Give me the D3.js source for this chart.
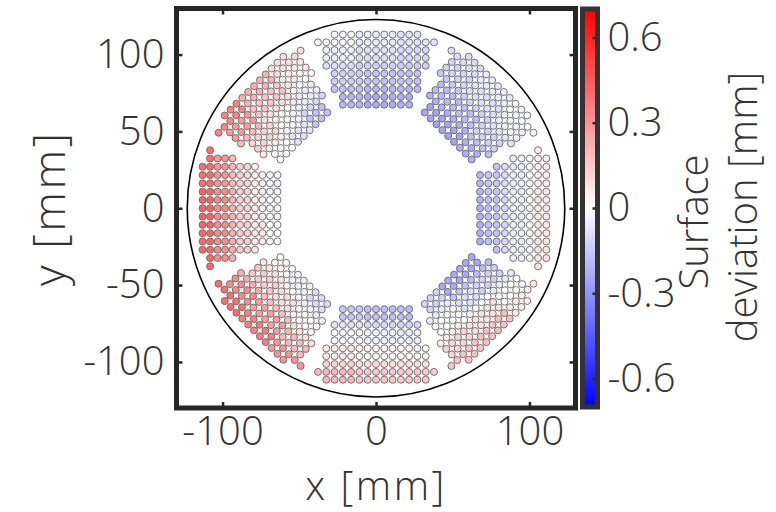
<!DOCTYPE html>
<html>
<head>
<meta charset="utf-8">
<script src="https://cdn.jsdelivr.net/npm/d3@7"></script>
<style>
  body { margin: 0; background: #fff; }
  text { font-family: "Open Sans", sans-serif; font-weight: 300; fill: #333; }
</style>
</head>
<body>
<svg width="776" height="512"></svg>
<script>
// sectors of the mirror, centre angle in degrees
var sectorAngles = [0, 45, 90, 135, 180, 225, 270, 315];
// radial sampling of each sector: first ring [mm], ring step [mm], ring count
var sectorR0 = [67.8, 66.5, 67.4, 66.5, 64.2, 66.5, 65.7, 66.5];
var sectorDr = [5.4, 5.1, 5.07, 5.1, 4.88, 5.1, 5.1, 5.1];
var sectorNr = [9, 10, 10, 10, 11, 10, 10, 10];
var tangStep = 5.4;

// surface deviation [mm], rows = cw side / middle / ccw side, cols = inner -> outer band
var dev0   = [[-0.22, -0.17, -0.11, -0.05, 0.02, 0.08],
              [-0.22, -0.17, -0.11, -0.05, 0.01, 0.07],
              [-0.20, -0.16, -0.10, -0.05, 0.00, 0.05]];
var dev45  = [[-0.22, -0.18, -0.13, -0.08, -0.04, -0.02],
              [-0.25, -0.22, -0.18, -0.13, -0.09, -0.06],
              [-0.25, -0.22, -0.19, -0.15, -0.12, -0.10]];
var dev90  = [[-0.22, -0.20, -0.17, -0.14, -0.11, -0.08],
              [-0.24, -0.21, -0.17, -0.13, -0.09, -0.06],
              [-0.20, -0.17, -0.13, -0.09, -0.05, -0.02]];
var dev135 = [[-0.17, -0.12, -0.06, 0.00, 0.06, 0.10],
              [-0.08, -0.03, 0.03, 0.10, 0.17, 0.22],
              [0.00, 0.06, 0.13, 0.20, 0.28, 0.34]];
var dev180 = [[-0.03, 0.04, 0.12, 0.20, 0.30, 0.40],
              [-0.02, 0.05, 0.13, 0.22, 0.32, 0.43],
              [0.00, 0.06, 0.14, 0.23, 0.32, 0.42]];
var dev225 = [[0.02, 0.08, 0.15, 0.23, 0.32, 0.40],
              [-0.04, 0.03, 0.10, 0.18, 0.27, 0.36],
              [-0.10, -0.05, 0.02, 0.10, 0.20, 0.30]];
var dev270 = [[-0.15, -0.08, -0.01, 0.06, 0.13, 0.20],
              [-0.18, -0.11, -0.04, 0.03, 0.10, 0.16],
              [-0.18, -0.12, -0.05, 0.02, 0.09, 0.15]];
var dev315 = [[-0.12, -0.06, 0.00, 0.06, 0.12, 0.17],
              [-0.24, -0.17, -0.09, 0.00, 0.09, 0.18],
              [-0.24, -0.19, -0.13, -0.06, 0.00, 0.06]];
var sectorDev = [dev0, dev45, dev90, dev135, dev180, dev225, dev270, dev315];
var radialBandEdges = [73, 81, 89, 97, 105];

var xTicks = [-100, 0, 100];
var yTicks = [-100, -50, 0, 50, 100];
var cTicks = [-0.6, -0.3, 0, 0.3, 0.6];
var rimRadius = 123;

var svg = d3.select("svg");

var x = d3.scaleLinear().domain([-130, 130]).range([176.5, 575.5]);
var y = d3.scaleLinear().domain([-130, 130]).range([408, 8.5]);
var color = d3.scaleLinear().domain([-0.7, 0, 0.7]).range(["#0000ff", "#ffffff", "#ff0000"]);
var cb = d3.scaleLinear().domain([-0.7, 0.7]).range([407, 9]);

// build the sample points of each sector
var points = [];
sectorAngles.forEach(function(a, s) {
  var th = a * Math.PI / 180;
  for (var i = 0; i < sectorNr[s]; i++) {
    var u = sectorR0[s] + i * sectorDr[s];
    for (var j = -8; j <= 8; j++) {
      var v = j * tangStep;
      var phi = Math.atan2(v, u) * 180 / Math.PI;
      if (Math.abs(phi) > 20 || Math.hypot(u, v) > 116.5) continue;
      var tb = phi < -7 ? 0 : (phi > 7 ? 2 : 1);
      var rb = d3.bisectRight(radialBandEdges, u);
      points.push({
        px: u * Math.cos(th) - v * Math.sin(th),
        py: u * Math.sin(th) + v * Math.cos(th),
        dev: sectorDev[s][tb][rb]
      });
    }
  }
});

// outer rim
svg.append("circle")
  .attr("cx", x(0)).attr("cy", y(0))
  .attr("r", x(rimRadius) - x(0))
  .style("fill", "none").style("stroke", "#000").style("stroke-width", 1.6);

svg.append("g").selectAll("circle")
  .data(points)
  .enter().append("circle")
    .attr("cx", function(d) { return x(d.px); })
    .attr("cy", function(d) { return y(d.py); })
    .attr("r", 3.5)
    .style("fill", function(d) { return color(d.dev); })
    .style("stroke", "#666")
    .style("stroke-width", 0.9);

// axes
function styleAxis(g) {
  g.select(".domain").remove();
  g.selectAll(".tick line").style("stroke", "#262626").style("stroke-width", 2.5);
  g.selectAll(".tick text").style("font-size", "40px").style("fill", "#333");
  g.attr("font-family", null).attr("font-size", null);
}

svg.append("g")
  .attr("transform", "translate(0," + y(-130) + ")")
  .call(d3.axisBottom(x).tickValues(xTicks).tickSize(-6).tickPadding(9).tickFormat(function(d) { return String(d); }))
  .call(styleAxis);
svg.append("g")
  .attr("transform", "translate(0," + y(130) + ")")
  .call(d3.axisTop(x).tickValues(xTicks).tickSize(-6).tickFormat(""))
  .call(styleAxis);
svg.append("g")
  .attr("transform", "translate(" + x(-130) + ",0)")
  .call(d3.axisLeft(y).tickValues(yTicks).tickSize(-6).tickPadding(12).tickFormat(function(d) { return String(d); }))
  .call(styleAxis);
svg.append("g")
  .attr("transform", "translate(" + x(130) + ",0)")
  .call(d3.axisRight(y).tickValues(yTicks).tickSize(-6).tickFormat(""))
  .call(styleAxis);

svg.append("rect")
  .attr("x", x(-130)).attr("y", y(130))
  .attr("width", x(130) - x(-130)).attr("height", y(-130) - y(130))
  .style("fill", "none").style("stroke", "#262626").style("stroke-width", 5);

svg.append("text").text("x [mm]")
  .attr("x", x(0)).attr("y", 500)
  .attr("text-anchor", "middle").style("font-size", "40px").style("letter-spacing", "2.5px");
svg.append("text").text("y [mm]")
  .attr("transform", "translate(65," + y(0) + ") rotate(-90)")
  .attr("text-anchor", "middle").style("font-size", "45px").style("letter-spacing", "2.5px");

// colorbar
var grad = svg.append("defs").append("linearGradient")
  .attr("id", "cmap").attr("x1", 0).attr("y1", 1).attr("x2", 0).attr("y2", 0);
grad.selectAll("stop")
  .data([-0.7, 0, 0.7])
  .enter().append("stop")
    .attr("offset", function(d) { return (d + 0.7) / 1.4; })
    .attr("stop-color", function(d) { return color(d); });

var cbX = 582.5, cbW = 15;
svg.append("rect")
  .attr("x", cbX).attr("y", cb(0.7))
  .attr("width", cbW).attr("height", cb(-0.7) - cb(0.7))
  .style("fill", "url(#cmap)");
svg.append("g")
  .attr("transform", "translate(" + (cbX + cbW) + ",0)")
  .call(d3.axisRight(cb).tickValues(cTicks).tickSize(-5).tickPadding(10).tickFormat(function(d) { return String(d); }))
  .call(styleAxis);
svg.append("rect")
  .attr("x", cbX).attr("y", cb(0.7))
  .attr("width", cbW).attr("height", cb(-0.7) - cb(0.7))
  .style("fill", "none").style("stroke", "#333").style("stroke-width", 5);

svg.append("text").text("Surface")
  .attr("transform", "translate(708,222) rotate(-90)")
  .attr("text-anchor", "middle").style("font-size", "40px");
svg.append("text").text("deviation [mm]")
  .attr("transform", "translate(757,207) rotate(-90)")
  .attr("text-anchor", "middle").style("font-size", "40px");
</script>
</body>
</html>
